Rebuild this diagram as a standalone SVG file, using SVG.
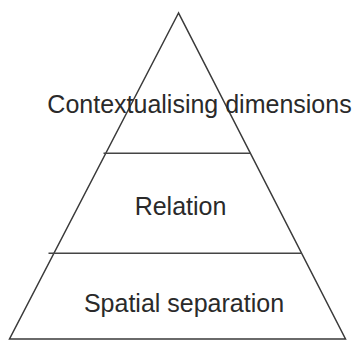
<svg xmlns="http://www.w3.org/2000/svg" width="356" height="340" viewBox="0 0 356 340">
<style>
.edge{fill:none;stroke:#3a3a3a;stroke-width:1.5;stroke-linejoin:miter}
.div{stroke:#444;stroke-width:1.6}
.lbl{font-family:"Liberation Sans",Arial,sans-serif;font-size:25px;fill:#2a2a2a;text-anchor:middle}
</style>
<rect width="356" height="340" fill="#fff"/>
<g id="pyramid">
<polygon class="edge" points="178.5,13 9.5,339 345.5,339"/>
</g>
<g id="connectors">
<line class="div" x1="103.5" y1="153.3" x2="250.5" y2="153.3"/>
<line class="div" x1="48.5" y1="253.3" x2="302" y2="253.3"/>
</g>
<g id="node-contextualising">
<text class="lbl" x="199.5" y="112.5">Contextualising dimensions</text>
</g>
<g id="node-relation">
<text class="lbl" x="180.5" y="215">Relation</text>
</g>
<g id="node-spatial">
<text class="lbl" x="184" y="311.5">Spatial separation</text>
</g>
</svg>
